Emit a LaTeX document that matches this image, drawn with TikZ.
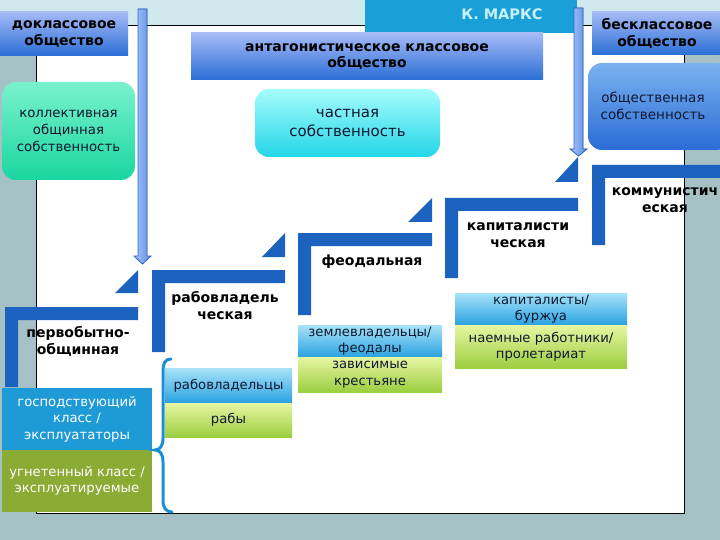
\documentclass[tikz,border=0pt]{standalone}
\usepackage{fontspec}
\setmainfont{DejaVu Sans}
\definecolor{hdrtop}{HTML}{A6BAF6}
\definecolor{hdrbot}{HTML}{2A6FD6}
\definecolor{framebl}{HTML}{1C63C0}
\definecolor{greentop}{HTML}{7AF2CC}
\definecolor{greenbot}{HTML}{19D6A0}
\definecolor{cyantop}{HTML}{A6FCFC}
\definecolor{cyanbot}{HTML}{22D6E8}
\definecolor{bluertop}{HTML}{7AB2F0}
\definecolor{bluerbot}{HTML}{2A6CD6}
\definecolor{marx}{HTML}{1AA0D8}
\definecolor{marxtxt}{HTML}{C8F0F8}
\definecolor{clsblue}{HTML}{1E9AD6}
\definecolor{clsgreen}{HTML}{8AAB34}
\definecolor{lbtop}{HTML}{A8E2F8}
\definecolor{lbbot}{HTML}{2AA2E2}
\definecolor{lgtop}{HTML}{E6F6A2}
\definecolor{lgbot}{HTML}{9CCE40}
\definecolor{bgside}{HTML}{A6C1C5}
\definecolor{bgtop}{HTML}{CFE9EE}
\definecolor{arrtop}{HTML}{A6C4F6}
\definecolor{arrbot}{HTML}{5A8EE8}
\definecolor{arrline}{HTML}{2F66C8}
\definecolor{bracec}{HTML}{1A8FD6}
\definecolor{txtdark}{HTML}{101830}
\tikzset{
  hdr/.style={top color=hdrtop, bottom color=hdrbot, draw=none, inner sep=0pt,
    align=center, text=black, font=\bfseries\fontsize{14}{16.5}\selectfont},
  rbox/.style={rounded corners=14pt, draw=none, inner sep=0pt, align=center,
    text=txtdark, font=\fontsize{13.5}{17}\selectfont},
  steptxt/.style={inner sep=0pt, align=center, text=black,
    font=\bfseries\fontsize{14}{17}\selectfont},
  clsbox/.style={draw=none, inner sep=0pt, align=center,
    font=\fontsize{13.2}{16.5}\selectfont},
  framebar/.style={fill=framebl, draw=none},
  arrbar/.style={left color=arrtop, right color=arrbot, draw=arrline, line width=0.8pt},
}
\begin{document}
\begin{tikzpicture}[x=1pt,y=-1pt]
\useasboundingbox (0,0) rectangle (720,540);
\clip (0,0) rectangle (720,540);
% background
\fill[bgside] (0,0) rectangle (720,540);
\fill[bgtop] (0,0) rectangle (720,26);
\fill[white] (36,26) rectangle (684,513);
\draw[black, line width=1pt] (36,26) rectangle (684,513);

% K. Marx
\node[fill=marx, minimum width=212pt, minimum height=36pt, inner sep=0pt] (marxbox) at (471,15) {};
\node[text=marxtxt, font=\bfseries\fontsize{14.5}{16}\selectfont, inner sep=0pt] (marx) at (502,14) {К. МАРКС};

% arrows
\fill[arrbar] (138,9) -- (147,9) -- (147,256) -- (151,256) -- (142.5,264) -- (134,256) -- (138,256) -- cycle;
\fill[arrbar] (574,8) -- (583,8) -- (583,149) -- (587,149) -- (578.5,156) -- (570,149) -- (574,149) -- cycle;

% headers
\node[hdr, minimum width=128pt, minimum height=44pt] (dokl) at (64,34) {доклассовое\\общество};
\node[hdr, minimum width=352pt, minimum height=47pt] (antag) at (367,56.5) {антагонистическое классовое\\общество};
\node[hdr, minimum width=130pt, minimum height=43pt] (beskl) at (657,33.5) {бесклассовое\\общество};

% property boxes
\node[rbox, top color=greentop, bottom color=greenbot, minimum width=133pt, minimum height=98pt, font=\fontsize{13.3}{17}\selectfont] (koll) at (68.5,131) {коллективная\\общинная\\собственность};
\node[rbox, top color=cyantop, bottom color=cyanbot, minimum width=185pt, minimum height=68pt, font=\fontsize{15}{19}\selectfont] (chast) at (347.5,123) {частная\\собственность};
\node[rbox, top color=bluertop, bottom color=bluerbot, minimum width=142pt, minimum height=87pt] (obsch) at (659,106.5) {};
\node[inner sep=0pt, align=center, text=txtdark, font=\fontsize{13.5}{17}\selectfont] (obscht) at (653,106) {общественная\\собственность};

% step frames
\fill[framebar] (5,307) -- (138,307) -- (138,320) -- (18,320) -- (18,387) -- (5,387) -- cycle;
\fill[framebar] (152,270) -- (285,270) -- (285,283) -- (165,283) -- (165,352) -- (152,352) -- cycle;
\fill[framebar] (298,233) -- (432,233) -- (432,246) -- (311,246) -- (311,315) -- (298,315) -- cycle;
\fill[framebar] (445,198) -- (578,198) -- (578,211) -- (458,211) -- (458,278) -- (445,278) -- cycle;
\fill[framebar] (592,165) -- (730,165) -- (730,178) -- (605,178) -- (605,245) -- (592,245) -- cycle;
% triangles
\fill[framebar] (115,293) -- (138,293) -- (138,270) -- cycle;
\fill[framebar] (262,257) -- (285,257) -- (285,233) -- cycle;
\fill[framebar] (408,222) -- (432,222) -- (432,198) -- cycle;
\fill[framebar] (555,182) -- (578,182) -- (578,157) -- cycle;

% step labels
\node[steptxt] (s1) at (78,341) {первобытно-\\общинная};
\node[steptxt] (s2) at (225,306) {рабовладель\\ческая};
\node[steptxt] (s3) at (372,262) {феодальная};
\node[steptxt] (s4) at (518,235) {капиталисти\\ческая};
\node[steptxt] (s5) at (665,200) {коммунистич\\еская};

% class boxes
\node[clsbox, fill=clsblue, text=white, minimum width=150pt, minimum height=62pt] (c1a) at (77,419) {господствующий\\класс /\\эксплуататоры};
\node[clsbox, fill=clsgreen, text=white, minimum width=150pt, minimum height=62pt] (c1b) at (77,481) {угнетенный класс /\\эксплуатируемые};
\node[clsbox, top color=lbtop, bottom color=lbbot, text=txtdark, minimum width=127pt, minimum height=35pt] (c2a) at (228.5,385.5) {рабовладельцы};
\node[clsbox, top color=lgtop, bottom color=lgbot, text=txtdark, minimum width=127pt, minimum height=34pt] (c2b) at (228.5,420) {рабы};
\node[clsbox, top color=lbtop, bottom color=lbbot, text=txtdark, minimum width=144pt, minimum height=32pt] (c3a) at (370,341) {землевладельцы/\\феодалы};
\node[clsbox, top color=lgtop, bottom color=lgbot, text=txtdark, minimum width=144pt, minimum height=35pt] (c3b) at (370,374.5) {зависимые\\крестьяне};
\node[clsbox, top color=lbtop, bottom color=lbbot, text=txtdark, minimum width=172pt, minimum height=32pt] (c4a) at (541,309) {капиталисты/\\буржуа};
\node[clsbox, top color=lgtop, bottom color=lgbot, text=txtdark, minimum width=172pt, minimum height=43pt] (c4b) at (541,346.5) {наемные работники/\\пролетариат};

% brace
\draw[bracec, line width=3pt, line cap=round] (171,359) .. controls (165,359) and (163,363) .. (163,372) -- (163,438) .. controls (163,446) and (160,450) .. (155,450) .. controls (160,450) and (163,454) .. (163,462) -- (163,500) .. controls (163,508) and (166,512) .. (172,512);
\end{tikzpicture}
\end{document}
